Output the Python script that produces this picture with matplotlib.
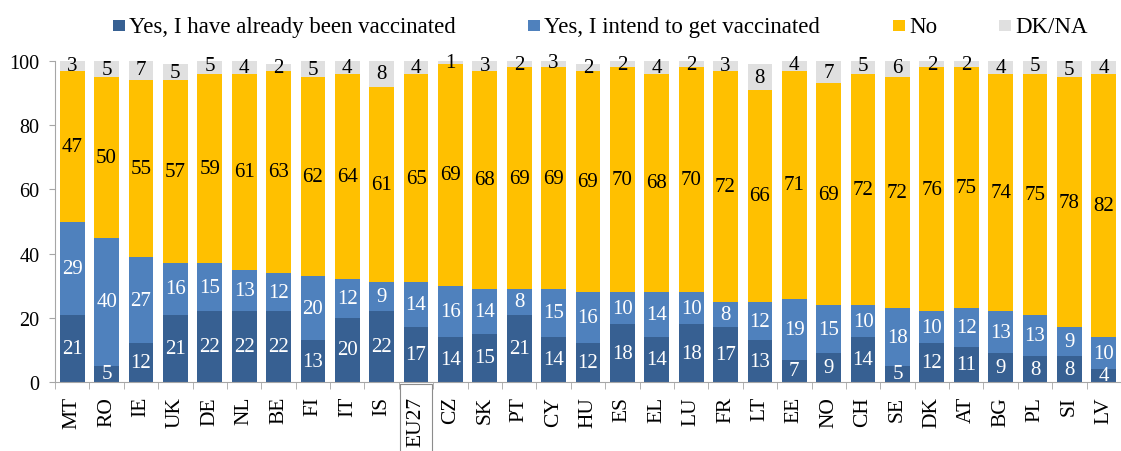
import matplotlib
matplotlib.use("Agg")
import matplotlib.pyplot as plt
from matplotlib.patches import Rectangle
import matplotlib.transforms as mtransforms
import numpy as np

countries = ["MT", "RO", "IE", "UK", "DE", "NL", "BE", "FI", "IT", "IS", "EU27",
             "CZ", "SK", "PT", "CY", "HU", "ES", "EL", "LU", "FR", "LT", "EE",
             "NO", "CH", "SE", "DK", "AT", "BG", "PL", "SI", "LV"]
already = [21, 5, 12, 21, 22, 22, 22, 13, 20, 22, 17, 14, 15, 21, 14, 12, 18, 14,
           18, 17, 13, 7, 9, 14, 5, 12, 11, 9, 8, 8, 4]
intend = [29, 40, 27, 16, 15, 13, 12, 20, 12, 9, 14, 16, 14, 8, 15, 16, 10, 14,
          10, 8, 12, 19, 15, 10, 18, 10, 12, 13, 13, 9, 10]
no = [47, 50, 55, 57, 59, 61, 63, 62, 64, 61, 65, 69, 68, 69, 69, 69, 70, 68,
      70, 72, 66, 71, 69, 72, 72, 76, 75, 74, 75, 78, 82]
dkna = [3, 5, 7, 5, 5, 4, 2, 5, 4, 8, 4, 1, 3, 2, 3, 2, 2, 4, 2, 3, 8, 4, 7,
        5, 6, 2, 2, 4, 5, 5, 4]

series_names = ["Yes, I have already been vaccinated", "Yes, I intend to get vaccinated",
                "No", "DK/NA"]
colors = ["#376092", "#4F81BD", "#FFC000", "#E0E0E0"]
text_colors = ["white", "white", "black", "black"]

FONT = "Liberation Serif"
W, H = 1121, 452
fig = plt.figure(figsize=(W / 100, H / 100), dpi=100)
ax = fig.add_axes([55 / W, (H - 383) / H, 1 - 55 / W, (383 - 62) / H])

x = np.arange(len(countries))
data = [np.array(already), np.array(intend), np.array(no), np.array(dkna)]
bottom = np.zeros(len(countries))
for vals, col, tcol in zip(data, colors, text_colors):
    ax.bar(x, vals, bottom=bottom, width=0.72, color=col, linewidth=0)
    for xi, b, v in zip(x, bottom, vals):
        ax.text(xi, b + v / 2, str(v), ha="center", va="center", color=tcol,
                fontsize=15, family=FONT)
    bottom = bottom + vals

ax.set_xlim(-0.5, 30.22)
ax.set_ylim(0, 100)
ax.set_yticks([0, 20, 40, 60, 80, 100])
ax.set_xticks(x)
ax.set_xticklabels(countries, rotation=90, fontsize=15.5, family=FONT)
ax.set_xticks(np.arange(-0.5, len(countries), 1), minor=True)
ax.tick_params(axis="x", which="major", length=0, pad=10)
ax.tick_params(axis="x", which="minor", length=5, color="#A6A6A6", direction="out")
ax.tick_params(axis="y", length=4, color="#A6A6A6", pad=7, labelsize=14.5)
for lab in ax.get_yticklabels():
    lab.set_family(FONT)
for s in ["top", "right"]:
    ax.spines[s].set_visible(False)
for s in ["left", "bottom"]:
    ax.spines[s].set_color("#A6A6A6")

# box around EU27 label
idx = countries.index("EU27")
trans = mtransforms.blended_transform_factory(ax.transData, ax.transAxes)
ax.add_patch(Rectangle((idx - 0.46, -0.006), 0.92, -0.4, transform=trans,
                       fill=False, edgecolor="#8C8C8C", linewidth=0.8, clip_on=False))

# legend drawn manually
leg_x = [113, 528, 893, 999]
for lx, name, col in zip(leg_x, series_names, colors):
    fig.patches.append(Rectangle((lx / W, 1 - 32 / H), 12 / W, 11 / H,
                                 transform=fig.transFigure, facecolor=col,
                                 edgecolor="none"))
    fig.text((lx + 16) / W, 1 - 33 / H, name, ha="left", va="baseline",
             fontsize=16.5, family=FONT)

fig.savefig("out.png", dpi=100)
